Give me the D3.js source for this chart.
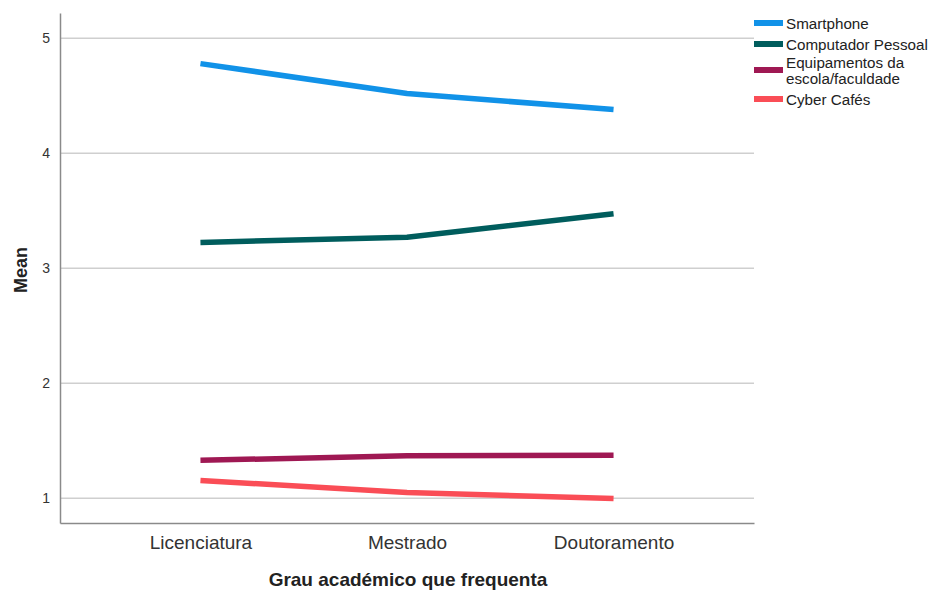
<!DOCTYPE html>
<html><head><meta charset="utf-8">
<script src="https://cdn.jsdelivr.net/npm/d3@7/dist/d3.min.js"></script>
<style>body{margin:0;background:#fff;} text{font-family:"Liberation Sans",Arial,sans-serif;}</style>
</head><body>
<svg id="c" width="935" height="592"></svg>
<script>
const categories = ["Licenciatura", "Mestrado", "Doutoramento"];
const seriesNames = ["Smartphone", "Computador Pessoal", "Equipamentos da escola/faculdade", "Cyber Cafés"];
const legendLabels = [["Smartphone"], ["Computador Pessoal"], ["Equipamentos da", "escola/faculdade"], ["Cyber Cafés"]];
const smartphone = [4.78, 4.52, 4.38];
const computador = [3.225, 3.27, 3.475];
const equipamentos = [1.33, 1.37, 1.375];
const cyber = [1.155, 1.05, 0.997];
const yTicks = [1, 2, 3, 4, 5];
const colors = ["#1192e8", "#005d5d", "#9f1853", "#fa4d56"];
const seriesValues = [smartphone, computador, equipamentos, cyber];

const svg = d3.select("#c");
const L = 60, R = 754, T = 13, B = 523;
const y = d3.scaleLinear().domain([0.785, 5.22]).range([B, T]);
const x = d3.scalePoint().domain(categories).range([L, R]).padding(0.68);

// gridlines
svg.append("g").selectAll("line").data(yTicks).join("line")
  .attr("x1", L).attr("x2", R).attr("y1", d => y(d)).attr("y2", d => y(d))
  .attr("stroke", "#cfcfcf").attr("stroke-width", 1.5);

// y axis
const ya = svg.append("g").attr("transform", `translate(${L},0)`)
  .call(d3.axisLeft(y).tickValues(yTicks).tickFormat(d3.format("d")).tickSize(0).tickPadding(10));
ya.select(".domain").attr("stroke", "#8a8a8a").attr("stroke-width", 1.5);
ya.selectAll("text").attr("font-size", 14).attr("fill", "#333")
  .attr("font-family", "'Liberation Sans',Arial,sans-serif");

// x axis
const xa = svg.append("g").attr("transform", `translate(0,${B})`)
  .call(d3.axisBottom(x).tickSize(0).tickPadding(13));
xa.select(".domain").attr("stroke", "#8a8a8a").attr("stroke-width", 1.5);
xa.selectAll("text").attr("font-size", 19).attr("fill", "#333")
  .attr("font-family", "'Liberation Sans',Arial,sans-serif");

// titles
svg.append("text").attr("x", 408).attr("y", 586).attr("text-anchor", "middle")
  .attr("font-size", 19).attr("font-weight", "bold").attr("fill", "#222")
  .text("Grau académico que frequenta");
svg.append("text").attr("transform", "translate(27,270) rotate(-90)").attr("text-anchor", "middle")
  .attr("font-size", 18).attr("font-weight", "bold").attr("fill", "#222").text("Mean");

// lines
const line = d3.line().x((d, i) => x(categories[i])).y(d => y(d));
svg.append("g").selectAll("path").data(seriesValues).join("path")
  .attr("d", d => line(d)).attr("fill", "none")
  .attr("stroke", (d, i) => colors[i]).attr("stroke-width", 5.5)
  .attr("stroke-linejoin", "round").attr("stroke-linecap", "butt");

// legend
const legY = [23, 44, 70, 99];
const lg = svg.append("g");
seriesNames.forEach((s, i) => {
  lg.append("line").attr("x1", 754).attr("x2", 783).attr("y1", legY[i]).attr("y2", legY[i])
    .attr("stroke", colors[i]).attr("stroke-width", 6);
  const lines = legendLabels[i];
  const t = lg.append("text").attr("x", 786).attr("font-size", 15.2).attr("fill", "#222");
  lines.forEach((ln, j) => {
    t.append("tspan").attr("x", 786)
      .attr("y", legY[i] + 5.5 + (j - (lines.length - 1) / 2) * 16)
      .text(ln);
  });
});
</script>
</body></html>
